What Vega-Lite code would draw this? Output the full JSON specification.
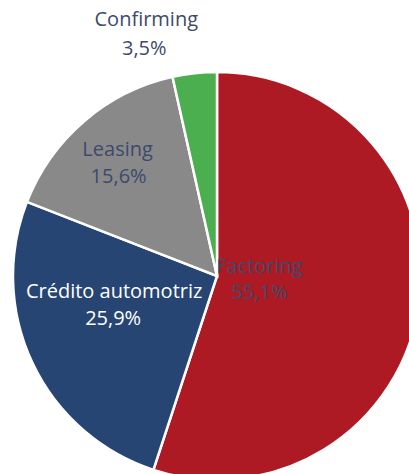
{
  "$schema": "https://vega.github.io/schema/vega-lite/v6.json",
  "autosize": {"type": "none"},
  "padding": 0,
  "width": 434,
  "height": 552,
  "background": "white",
  "config": {
    "view": {"stroke": null},
    "locale": {"number": {"decimal": ",", "thousands": ".", "grouping": [3], "currency": ["", " €"]}},
    "text": {"font": "Open Sans", "fontSize": 20, "align": "center", "baseline": "middle", "color": "#3D4A6C"}
  },
  "data": {"values": [
    {"category": "Factoring", "share": 0.551, "ord": 1},
    {"category": "Crédito automotriz", "share": 0.259, "ord": 2},
    {"category": "Leasing", "share": 0.156, "ord": 3},
    {"category": "Confirming", "share": 0.035, "ord": 4}
  ]},
  "encoding": {
    "theta": {"field": "share", "type": "quantitative", "stack": true},
    "order": {"field": "ord", "type": "quantitative"}
  },
  "layer": [
    {
      "mark": {"type": "arc", "outerRadius": 204, "stroke": "white", "strokeWidth": 2.5},
      "encoding": {
        "color": {"field": "category", "type": "nominal", "legend": null,
          "scale": {"domain": ["Factoring", "Crédito automotriz", "Leasing", "Confirming"],
                    "range": ["#AD1A24", "#264573", "#898989", "#4BAE4F"]}}
      }
    },
    {
      "mark": {"type": "text", "radius": 43, "dy": -16},
      "encoding": {"text": {"condition": {"test": "datum.category === 'Factoring'", "field": "category"}, "value": ""}}
    },
    {
      "mark": {"type": "text", "radius": 43, "dy": 10},
      "encoding": {"text": {"condition": {"test": "datum.category === 'Factoring'", "field": "share", "format": ".1%"}, "value": ""}}
    },
    {
      "mark": {"type": "text", "radius": 106, "dx": -7, "dy": -29, "color": "white"},
      "encoding": {"text": {"condition": {"test": "datum.category === 'Crédito automotriz'", "field": "category"}, "value": ""}}
    },
    {
      "mark": {"type": "text", "radius": 106, "dx": -8, "dy": -2, "color": "white"},
      "encoding": {"text": {"condition": {"test": "datum.category === 'Crédito automotriz'", "field": "share", "format": ".1%"}, "value": ""}}
    },
    {
      "mark": {"type": "text", "radius": 148, "dx": -3, "dy": -14},
      "encoding": {"text": {"condition": {"test": "datum.category === 'Leasing'", "field": "category"}, "value": ""}}
    },
    {
      "mark": {"type": "text", "radius": 148, "dx": -2, "dy": 13},
      "encoding": {"text": {"condition": {"test": "datum.category === 'Leasing'", "field": "share", "format": ".1%"}, "value": ""}}
    },
    {
      "mark": {"type": "text", "radius": 253, "dx": -43, "dy": -5},
      "encoding": {"text": {"condition": {"test": "datum.category === 'Confirming'", "field": "category"}, "value": ""}}
    },
    {
      "mark": {"type": "text", "radius": 253, "dx": -45, "dy": 24},
      "encoding": {"text": {"condition": {"test": "datum.category === 'Confirming'", "field": "share", "format": ".1%"}, "value": ""}}
    }
  ]
}
